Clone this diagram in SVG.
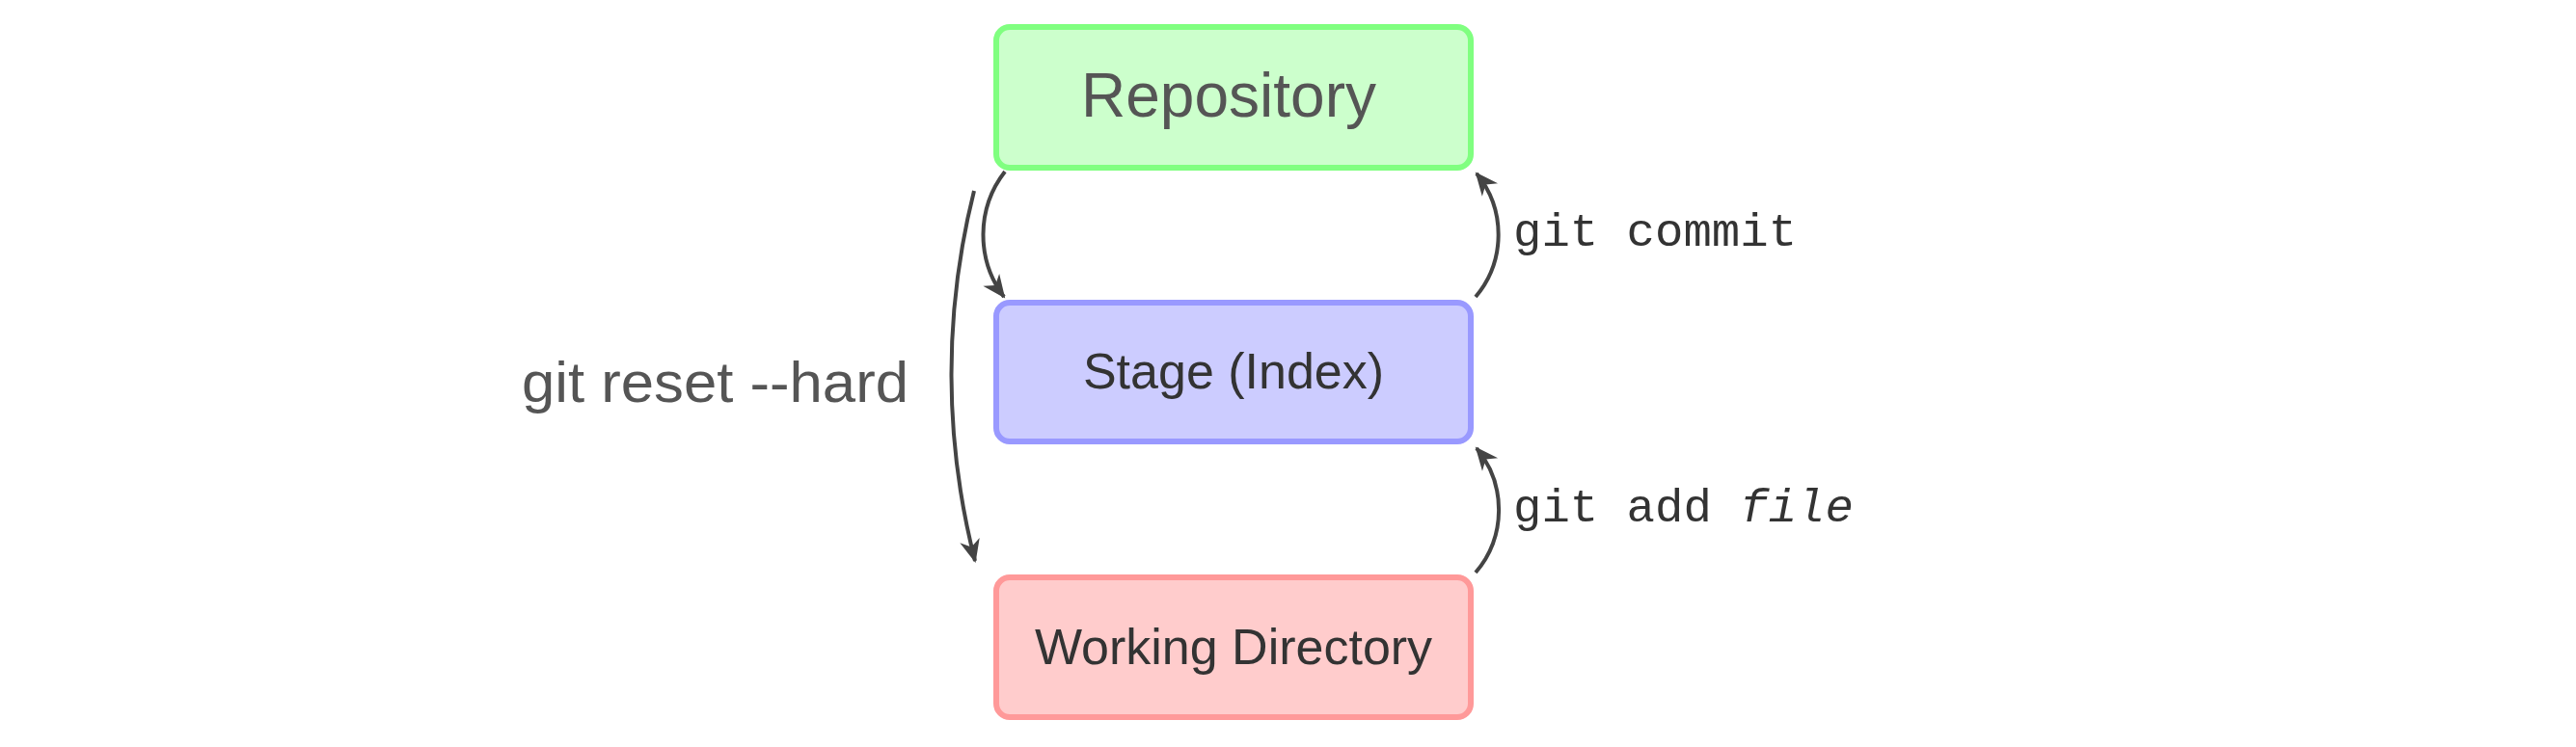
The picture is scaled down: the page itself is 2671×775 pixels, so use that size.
<svg xmlns="http://www.w3.org/2000/svg" width="2671" height="775" viewBox="0 0 2671 775">
<style>
.box{stroke-width:6}
.lbl{font-family:"Liberation Sans",Arial,sans-serif;text-anchor:middle}
.mono{font-family:"Liberation Mono","DejaVu Sans Mono",monospace;font-size:49px;fill:#333}
.edge{fill:none;stroke:#444;stroke-width:4}
</style>
<defs>
<marker id="ah" viewBox="-26 -13 30 26" refX="0" refY="0" markerWidth="30" markerHeight="26" markerUnits="userSpaceOnUse" orient="auto">
<path d="M2,0 L-22,-10.5 L-15,0 L-22,10.5 Z" fill="#444"/>
</marker>
</defs>
<rect width="2671" height="775" fill="#fff"/>
<g id="repository">
<rect class="box" x="1033" y="28" width="492" height="146" rx="14" fill="#ccffcc" stroke="#80ff80"/>
<text class="lbl" x="1274" y="121" font-size="64" fill="#555">Repository</text>
</g>
<g id="stage">
<rect class="box" x="1033" y="314" width="492" height="144" rx="14" fill="#ccccff" stroke="#9999ff"/>
<text class="lbl" x="1279" y="403" font-size="52" fill="#333">Stage (Index)</text>
</g>
<g id="working">
<rect class="box" x="1033" y="599" width="492" height="145" rx="14" fill="#ffcccc" stroke="#ff9999"/>
<text class="lbl" x="1279" y="689" font-size="52" fill="#333">Working Directory</text>
</g>
<g id="connectors">
<path class="edge" d="M1042,178 A107,107 0 0 0 1041,308" marker-end="url(#ah)"/>
<path class="edge" d="M1010,198 A780,780 0 0 0 1011,582" marker-end="url(#ah)"/>
<path class="edge" d="M1530,308 A100,100 0 0 0 1531,180" marker-end="url(#ah)"/>
<path class="edge" d="M1530,594 A100,100 0 0 0 1531,465" marker-end="url(#ah)"/>
</g>
<g id="labels">
<text x="541" y="417" font-family="Liberation Sans,Arial,sans-serif" font-size="60" fill="#555" textLength="401" lengthAdjust="spacingAndGlyphs">git reset --hard</text>
<text class="mono" x="1569" y="255">git commit</text>
<text class="mono" x="1569" y="541">git add <tspan font-style="italic">file</tspan></text>
</g>
</svg>
